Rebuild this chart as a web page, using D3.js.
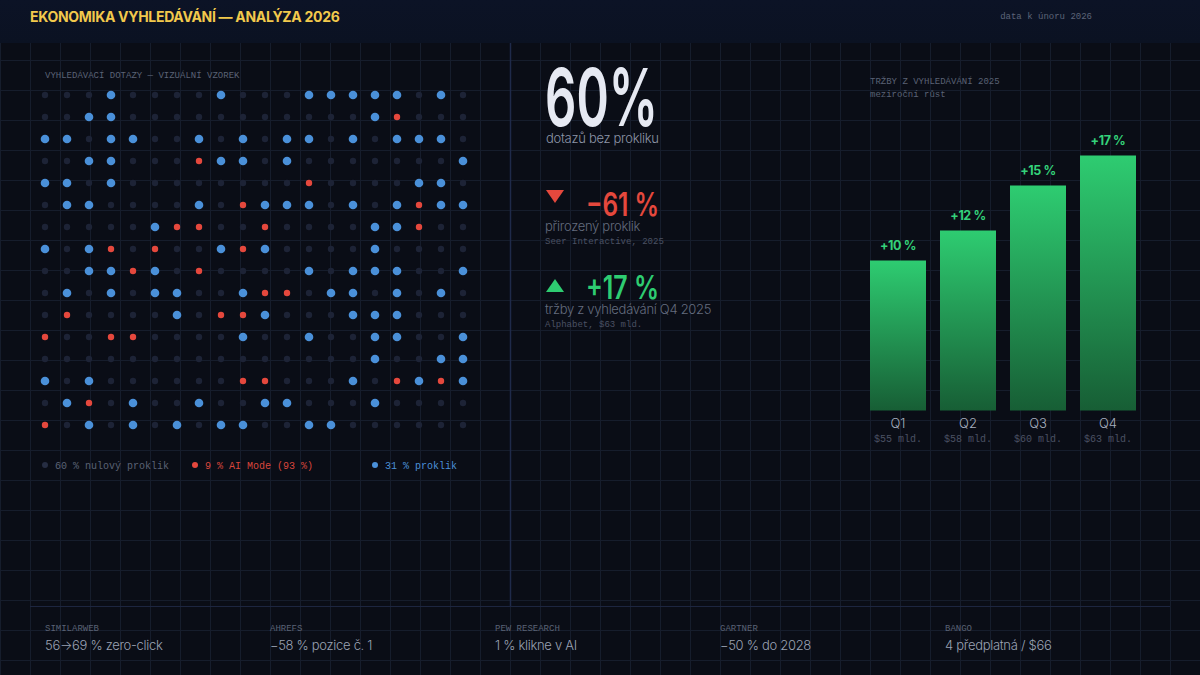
<!DOCTYPE html>
<html>
<head>
<meta charset="utf-8">
<script src="https://cdn.jsdelivr.net/npm/d3@7"></script>
<style>
  html, body { margin: 0; padding: 0; background: #0a0d16; }
  svg { display: block; }
  .mono { font-family: "Liberation Mono", "DejaVu Sans Mono", monospace; }
  .sans { font-family: Inter, "Noto Sans", sans-serif; }
</style>
</head>
<body>
<div id="chart"></div>
<script>
// ---- data ----
var titleText = "EKONOMIKA VYHLEDÁVÁNÍ — ANALÝZA 2026";
var dateText = "data k únoru 2026";

// dot sample, one string per row: d = nulový proklik, r = AI Mode, b = proklik
var gridRows = [
  "dddbddddbdddbbbbbdbd",
  "ddbbdddddddddddbrddd",
  "bbdbbddbdbdbbdbdbbbd",
  "ddbbdddrbbdbdddddddb",
  "bbdbddddddddrddddbbd",
  "dbbddddbdrbbbdbdbrbb",
  "dddddbrrddrddddbbrdd",
  "bdbrdrddbrbddddbdddd",
  "ddbbrbdrddddbdbbbddb",
  "dbdbdbbddbrrdbbdbdbd",
  "drddddbdrrbdddbbbddd",
  "rddrrddddbddbddbbddb",
  "dddddddddddddddbddbb",
  "bdbddddddrrdddbdrbrb",
  "dbrdbddbddbbdddbdddd",
  "rdbdbdbdbbddbbdddddd"
];
var dotTypes = ["d", "r", "b"];
var legendLabels = ["60 % nulový proklik", "9 % AI Mode (93 %)", "31 % proklik"];

var quarters = ["Q1", "Q2", "Q3", "Q4"];
var growth = [10, 12, 15, 17];
var revenue = ["$55 mld.", "$58 mld.", "$60 mld.", "$63 mld."];

var heroValue = "60%";
var heroLabel = "dotazů bez prokliku";
var statValues = ["−61 %", "+17 %"];
var statLabels = ["přirozený proklik", "tržby z vyhledávání Q4 2025"];
var statSources = ["Seer Interactive, 2025", "Alphabet, $63 mld."];

var footerSources = ["SIMILARWEB", "AHREFS", "PEW RESEARCH", "GARTNER", "BANGO"];
var footerValues = ["56→69 % zero-click", "−58 % pozice č. 1", "1 % klikne v AI", "−50 % do 2028", "4 předplatná / $66"];

// ---- drawing ----
var width = 1200, height = 675;
var svg = d3.select("#chart").append("svg").attr("width", width).attr("height", height);
var defs = svg.append("defs");

svg.append("rect").attr("width", width).attr("height", height).attr("fill", "#0a0d16");

// background grid
var grid = svg.append("g").attr("stroke", "#161d2c").attr("stroke-width", 1);
d3.range(0.5, width, 30).forEach(function(x) {
  grid.append("line").attr("x1", x).attr("x2", x).attr("y1", 43).attr("y2", height);
});
d3.range(60.5, height, 30).forEach(function(y) {
  grid.append("line").attr("x1", 0).attr("x2", width).attr("y1", y).attr("y2", y);
});

// header band
var hg = defs.append("linearGradient").attr("id", "hdr").attr("x1", 0).attr("x2", 0).attr("y1", 0).attr("y2", 1);
hg.append("stop").attr("offset", "0%").attr("stop-color", "#0c1326");
hg.append("stop").attr("offset", "100%").attr("stop-color", "#0b1222");
svg.append("rect").attr("width", width).attr("height", 43).attr("fill", "url(#hdr)");

svg.append("text").attr("class", "sans").attr("x", 30).attr("y", 22)
  .attr("font-size", 14).attr("font-weight", 700).attr("letter-spacing", -0.3)
  .attr("fill", "#f2c94c").text(titleText);
svg.append("text").attr("class", "mono").attr("x", 1092).attr("y", 19)
  .attr("text-anchor", "end").attr("font-size", 9).attr("fill", "#5c6478").text(dateText);

// divider + footer rule
svg.append("line").attr("x1", 510.5).attr("x2", 510.5).attr("y1", 43).attr("y2", 606)
  .attr("stroke", "#1f2a4a").attr("stroke-width", 1.5);
svg.append("line").attr("x1", 30).attr("x2", 1170).attr("y1", 606.5).attr("y2", 606.5)
  .attr("stroke", "#1d2640").attr("stroke-width", 1);

// ---- dot grid ----
svg.append("text").attr("class", "mono").attr("x", 45).attr("y", 78)
  .attr("font-size", 9).attr("fill", "#5a6275").text("VYHLEDÁVACÍ DOTAZY — VIZUÁLNÍ VZOREK");

var gx = d3.scalePoint().domain(d3.range(20)).range([45, 463]);
var gy = d3.scalePoint().domain(d3.range(gridRows.length)).range([95, 425]);
var dotColor = d3.scaleOrdinal().domain(dotTypes).range(["#1d2336", "#e5483d", "#4a90d9"]);
var dotR = d3.scaleOrdinal().domain(dotTypes).range([3.2, 3.2, 4.3]);

var cells = [];
gridRows.forEach(function(row, j) {
  row.split("").forEach(function(t, i) { cells.push({ i: i, j: j, t: t }); });
});
svg.append("g").selectAll("circle").data(cells).join("circle")
  .attr("cx", function(d) { return gx(d.i); })
  .attr("cy", function(d) { return gy(d.j); })
  .attr("r", function(d) { return dotR(d.t); })
  .attr("fill", function(d) { return dotColor(d.t); });

var legendX = d3.scaleOrdinal().domain(dotTypes).range([45, 195, 375]);
var legendText = d3.scaleOrdinal().domain(dotTypes).range(["#5a6275", "#d9463c", "#4a90d9"]);
var lg = svg.append("g").selectAll("g").data(dotTypes).join("g")
  .attr("transform", function(d) { return "translate(" + legendX(d) + ",465)"; });
lg.append("circle").attr("r", 3).attr("fill", function(d) { return d === "d" ? "#262d42" : dotColor(d); });
lg.append("text").attr("class", "mono").attr("x", 10).attr("y", 3.5)
  .attr("font-size", 10).attr("fill", function(d) { return legendText(d); })
  .text(function(d, i) { return legendLabels[i]; });

// ---- middle stats ----
svg.append("text").attr("class", "sans").attr("x", 545).attr("y", 125.5)
  .attr("font-size", 80).attr("font-weight", 600).attr("fill", "#e6e9f2")
  .attr("textLength", 113).attr("lengthAdjust", "spacingAndGlyphs").text(heroValue);
svg.append("text").attr("class", "sans").attr("x", 546).attr("y", 143)
  .attr("font-size", 13).attr("font-weight", 300).attr("letter-spacing", -0.3)
  .attr("fill", "#8d95a8").text(heroLabel);

var statY = d3.scalePoint().domain([0, 1]).range([216, 299]);
var statColor = ["#e5483d", "#2ecc71"];
var stats = svg.append("g").selectAll("g").data(statValues).join("g")
  .attr("transform", function(d, i) { return "translate(0," + statY(i) + ")"; });
stats.append("path")
  .attr("d", function(d, i) { return i === 0 ? "M546,-26L564,-26L555,-13Z" : "M546,-7L564,-7L555,-20Z"; })
  .attr("fill", function(d, i) { return statColor[i]; });
stats.append("text").attr("class", "sans").attr("x", 586).attr("y", 0)
  .attr("font-size", 32).attr("font-weight", 600)
  .attr("textLength", 73).attr("lengthAdjust", "spacingAndGlyphs")
  .attr("fill", function(d, i) { return statColor[i]; }).text(function(d) { return d; });
stats.append("text").attr("class", "sans").attr("x", 545).attr("y", 14.5)
  .attr("font-size", 13).attr("font-weight", 300).attr("letter-spacing", -0.3)
  .attr("fill", "#646c7e").text(function(d, i) { return statLabels[i]; });
stats.append("text").attr("class", "mono").attr("x", 545).attr("y", 27.5)
  .attr("font-size", 9).attr("fill", "#4a5163").text(function(d, i) { return statSources[i]; });

// ---- bar chart ----
svg.append("text").attr("class", "mono").attr("x", 870).attr("y", 84)
  .attr("font-size", 9).attr("fill", "#5a6275").text("TRŽBY Z VYHLEDÁVÁNÍ 2025");
svg.append("text").attr("class", "mono").attr("x", 870).attr("y", 97)
  .attr("font-size", 9).attr("fill", "#5a6275").text("meziroční růst");

var bg = defs.append("linearGradient").attr("id", "bar").attr("x1", 0).attr("x2", 0).attr("y1", 0).attr("y2", 1);
bg.append("stop").attr("offset", "0%").attr("stop-color", "#2ecc71");
bg.append("stop").attr("offset", "100%").attr("stop-color", "#175e35");

var x = d3.scaleBand().domain(quarters).range([870, 1136]).paddingInner(0.2).paddingOuter(0);
var y = d3.scaleLinear().domain([0, 20]).range([410.5, 110.5]);

var bars = svg.append("g").selectAll("g").data(quarters).join("g");
bars.append("rect")
  .attr("x", function(d) { return x(d); })
  .attr("y", function(d, i) { return y(growth[i]); })
  .attr("width", x.bandwidth())
  .attr("height", function(d, i) { return y(0) - y(growth[i]); })
  .attr("fill", "url(#bar)");
bars.append("text").attr("class", "sans").attr("text-anchor", "middle")
  .attr("x", function(d) { return x(d) + x.bandwidth() / 2; })
  .attr("y", function(d, i) { return y(growth[i]) - 11; })
  .attr("font-size", 12.5).attr("font-weight", 700).attr("letter-spacing", -0.4).attr("fill", "#34d27a")
  .text(function(d, i) { return "+" + growth[i] + " %"; });
bars.append("text").attr("class", "sans").attr("text-anchor", "middle")
  .attr("x", function(d) { return x(d) + x.bandwidth() / 2; })
  .attr("y", 428).attr("font-size", 13).attr("font-weight", 300).attr("fill", "#a7afbf").text(function(d) { return d; });
bars.append("text").attr("class", "mono").attr("text-anchor", "middle")
  .attr("x", function(d) { return x(d) + x.bandwidth() / 2; })
  .attr("y", 442).attr("font-size", 10).attr("fill", "#4a5163")
  .text(function(d, i) { return revenue[i]; });

// ---- footer ----
var fx = d3.scalePoint().domain(footerSources).range([45, 945]);
var foot = svg.append("g").selectAll("g").data(footerSources).join("g")
  .attr("transform", function(d) { return "translate(" + fx(d) + ",0)"; });
foot.append("text").attr("class", "mono").attr("y", 631).attr("font-size", 9)
  .attr("fill", "#5a6275").text(function(d) { return d; });
foot.append("text").attr("class", "sans").attr("y", 650).attr("font-size", 13)
  .attr("font-weight", 300).attr("letter-spacing", -0.3)
  .attr("fill", "#9aa2b3").text(function(d, i) { return footerValues[i]; });
</script>
</body>
</html>
